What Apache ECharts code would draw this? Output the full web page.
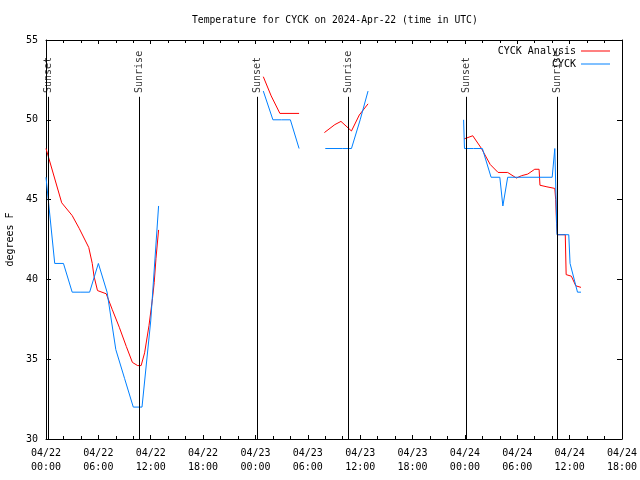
<!DOCTYPE html>
<html><head><meta charset="utf-8">
<script src="https://cdn.jsdelivr.net/npm/echarts@6/dist/echarts.min.js"></script>
<style>html,body{margin:0;padding:0;background:#fff}#c{width:640px;height:480px}</style>
</head><body><div id="c"></div>
<script>
// hours since 2024-04-22 00:00 UTC; null temperature = gap in record
const analysisHours = [0, 1.8, 3, 3.8, 4.9, 5.3, 5.5, 5.9, 6.9, 7.6, 8.4, 9.2, 9.9, 10.5, 10.9, 11.3, 11.8, 12.2, 12.4, 12.6, 12.9,
  18,
  24.9, 25.8, 26.8, 29.0,
  30.5,
  31.9, 33.1, 33.8, 35.0, 35.9, 36.9,
  42,
  47.9, 48.9, 49.9, 50.9, 51.8, 52.9, 53.9, 54.5, 55.2, 56.0, 56.5, 56.6, 57.4, 58.3, 58.4, 58.5, 58.6, 59.5, 59.6, 60.2, 60.7, 61.3];
const analysisTemps = [48.2, 44.8, 44.0, 43.2, 42.0, 41.0, 40.2, 39.3, 39.1, 38.1, 37.0, 35.8, 34.8, 34.6, 34.6, 35.4, 37.1, 38.8, 39.8, 41.3, 43.1,
  null,
  52.7, 51.5, 50.4, 50.4,
  null,
  49.2, 49.7, 49.9, 49.3, 50.3, 51.0,
  null,
  48.8, 49.0, 48.2, 47.2, 46.7, 46.7, 46.35, 46.5, 46.6, 46.9, 46.9, 45.9, 45.8, 45.7, 45.0, 43.5, 42.8, 42.8, 40.3, 40.2, 39.6, 39.5];
const obsHours = [0, 1, 2, 3, 4, 5, 6, 7, 8, 9, 10, 11, 12, 12.9,
  18,
  24.9, 26, 27, 28, 29,
  30.5,
  32, 33, 34, 35, 36, 36.9,
  42,
  47.85, 47.95, 49, 50, 51, 52, 52.35, 52.9, 58, 58.3, 58.45, 58.55, 59.9, 60.05, 60.9, 61.3];
const obsTemps = [46.4, 41.0, 41.0, 39.2, 39.2, 39.2, 41.0, 39.2, 35.6, 33.8, 32.0, 32.0, 37.4, 44.6,
  null,
  51.8, 50.0, 50.0, 50.0, 48.2,
  null,
  48.2, 48.2, 48.2, 48.2, 50.0, 51.8,
  null,
  50.0, 48.2, 48.2, 48.2, 46.4, 46.4, 44.6, 46.4, 46.4, 48.2, 48.2, 42.8, 42.8, 41.0, 39.2, 39.2];
const sunsetHours = [0.25, 24.2, 48.15];
const sunriseHours = [10.7, 34.65, 58.6];
const dayLabels = ['04/22', '04/23', '04/24'];

const FONT = 'DejaVu Sans Mono';
const zip = (xs, ys) => xs.map((x, i) => [x, ys[i]]);
const sunEvents = sunsetHours.map(h => [h, 'Sunset']).concat(sunriseHours.map(h => [h, 'Sunrise']));
const LINE_TOP = 51.44, LABEL_Y = 51.68;

const xLabel = v => {
  const d = Math.floor(v / 24), hh = Math.round(v % 24);
  return dayLabels[Math.min(d, 2)] + '\n' + String(hh).padStart(2, '0') + ':00';
};

const chart = echarts.init(document.getElementById('c'), null, {renderer: 'canvas'});
const xBase = {type: 'value', min: 0, max: 66, interval: 6, splitLine: {show: false},
  axisLine: {show: true, onZero: false, lineStyle: {color: '#000', width: 1}},
  axisTick: {show: true, inside: true, length: 4, lineStyle: {color: '#000'}},
  minorTick: {show: true, splitNumber: 3, length: 3, lineStyle: {color: '#000'}}};
const yBase = {type: 'value', min: 30, max: 55, interval: 5, splitLine: {show: false},
  axisLine: {show: true, onZero: false, lineStyle: {color: '#000', width: 1}},
  axisTick: {show: true, inside: true, length: 5, lineStyle: {color: '#000'}}};

chart.setOption({
  animation: false,
  backgroundColor: '#fff',
  title: {text: 'Temperature for CYCK on 2024-Apr-22 (time in UTC)', left: 187, top: 10,
    textStyle: {fontFamily: FONT, fontSize: 9.7, fontWeight: 'normal', color: '#000'}},
  legend: {data: ['CYCK Analysis', 'CYCK'], orient: 'vertical', right: 30, top: 40, align: 'right',
    icon: 'rect', itemWidth: 29, itemHeight: 1, itemGap: 1, padding: [5, 0, 5, 5],
    textStyle: {fontFamily: FONT, fontSize: 10, color: '#000', lineHeight: 12}},
  grid: {left: 46, right: 18, top: 40, bottom: 41, containLabel: false, outerBoundsMode: 'none'},
  xAxis: [
    Object.assign({}, xBase, {position: 'bottom',
      axisLabel: {show: true, showMaxLabel: true, showMinLabel: true, formatter: xLabel, margin: 7,
        fontFamily: FONT, fontSize: 10, color: '#000', lineHeight: 14}}),
    Object.assign({}, xBase, {position: 'top', axisLabel: {show: false}})
  ],
  yAxis: [
    Object.assign({}, yBase, {position: 'left', name: 'degrees F', nameLocation: 'middle', nameGap: 31,
      nameTextStyle: {fontFamily: FONT, fontSize: 10, color: '#000'},
      axisLabel: {show: true, margin: 8, fontFamily: FONT, fontSize: 10, color: '#000'}}),
    Object.assign({}, yBase, {position: 'right', axisLabel: {show: false}})
  ],
  series: [
    {name: 'sun', type: 'scatter', xAxisIndex: 0, yAxisIndex: 0, symbolSize: 1, silent: true,
      itemStyle: {color: 'rgba(0,0,0,0)'},
      data: sunEvents.map(e => [e[0], LABEL_Y, e[1]]),
      label: {show: true, position: 'inside', formatter: p => p.data[2], rotate: 90, align: 'left',
        verticalAlign: 'middle', fontFamily: FONT, fontSize: 10, color: '#000'},
      markLine: {silent: true, symbol: ['none', 'none'], label: {show: false},
        lineStyle: {color: '#000', width: 1, type: 'solid'},
        data: sunEvents.map(e => [{coord: [e[0], LINE_TOP]}, {coord: [e[0], 30]}])}},
    {name: 'CYCK Analysis', type: 'line', data: zip(analysisHours, analysisTemps), symbol: 'none',
      connectNulls: false, lineStyle: {color: '#ff0000', width: 1}, itemStyle: {color: '#ff0000'}},
    {name: 'CYCK', type: 'line', data: zip(obsHours, obsTemps), symbol: 'none',
      connectNulls: false, lineStyle: {color: '#0080ff', width: 1}, itemStyle: {color: '#0080ff'}}
  ]
});
</script>
</body></html>
